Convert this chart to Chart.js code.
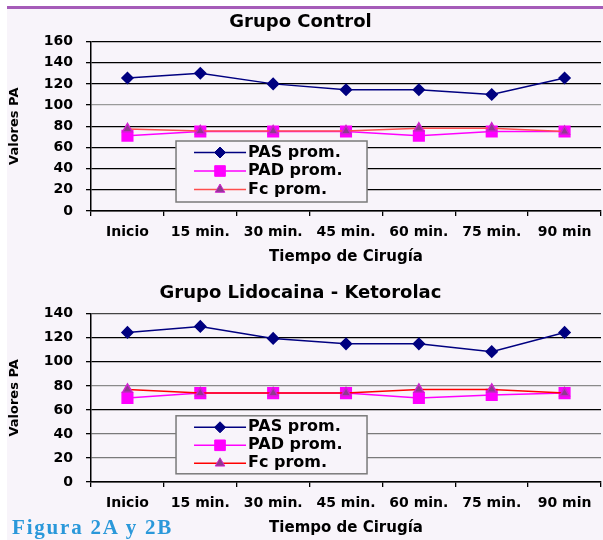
<!DOCTYPE html>
<html lang="es">
<head>
<meta charset="utf-8">
<title>Figura 2A y 2B</title>
<script src="https://cdn.jsdelivr.net/npm/chart.js@4/dist/chart.umd.min.js"></script>
<style>
  html, body { margin: 0; padding: 0; background: #fff; }
  body { width: 603px; height: 540px; position: relative; overflow: hidden; }
  #frame { position: absolute; left: 7px; top: 6px; right: 0; bottom: 0; background: #f8f4fa; border-top: 3px solid #a55bb8; }
  .box { position: absolute; left: 0; width: 603px; }
  #boxA { top: 10px; height: 260px; }
  #boxB { top: 270px; height: 270px; }
  #fig { position: absolute; left: 12px; top: 515px; font: bold 21px "Liberation Serif", serif; color: #2a98da; letter-spacing: 1.8px; }
</style>
</head>
<body>
  <div id="frame"></div>
  <div class="box" id="boxA"><canvas id="chartControl"></canvas></div>
  <div class="box" id="boxB"><canvas id="chartLido"></canvas></div>
  <div id="fig">Figura 2A y 2B</div>

<script>
  // datos
  const categories   = ['Inicio', '15 min.', '30 min.', '45 min.', '60 min.', '75 min.', '90 min'];
  const seriesLabels = ['PAS prom.', 'PAD prom.', 'Fc prom.'];

  const controlPAS = [125.5, 130, 120, 114.5, 114.5, 110, 125.5];
  const controlPAD = [71, 75, 75, 75, 71, 75, 75];
  const controlFc  = [77.5, 75.5, 75.5, 75.5, 78, 78, 75];
  const controlYMax = 160;

  const lidoPAS = [124.5, 129.5, 119.5, 115, 115, 108.5, 124.5];
  const lidoPAD = [70, 74, 74, 74, 70, 72.5, 74];
  const lidoFc  = [77, 74, 74, 74, 77, 77, 74];
  const lidoYMax = 140;

  const FONT = '"DejaVu Sans", Verdana, sans-serif';
  const BG = '#f8f4fa';

  // leyenda en recuadro dentro del area del grafico
  const boxLegend = {
    id: 'boxLegend',
    afterDatasetsDraw(chart, args, o) {
      const { ctx, chartArea } = chart;
      const x = chartArea.left + o.left, y = chartArea.top + o.top;
      ctx.save();
      ctx.fillStyle = BG;
      ctx.fillRect(x, y, o.width, o.height);
      ctx.strokeStyle = '#7a7a7a';
      ctx.lineWidth = 1.5;
      ctx.strokeRect(x, y, o.width, o.height);
      chart.data.datasets.forEach((ds, i) => {
        const cy = y + o.rowTop + i * o.rowGap;
        ctx.strokeStyle = ds.borderColor;
        ctx.lineWidth = ds.borderWidth;
        ctx.beginPath();
        ctx.moveTo(x + o.lineStart, cy);
        ctx.lineTo(x + o.lineEnd, cy);
        ctx.stroke();
        ctx.fillStyle = ds.pointBackgroundColor;
        ctx.strokeStyle = ds.pointBorderColor;
        ctx.lineWidth = 1;
        Chart.helpers.drawPoint(ctx, { pointStyle: ds.pointStyle, radius: ds.pointRadius, rotation: 0, borderWidth: 1 },
          x + (o.lineStart + o.lineEnd) / 2, cy);
        ctx.fillStyle = '#000';
        ctx.font = 'bold 16px ' + FONT;
        ctx.textBaseline = 'middle';
        ctx.fillText(ds.label, x + o.textX, cy);
      });
      ctx.restore();
    }
  };

  function makeChart(id, title, pas, pad, fc, yMax, p) {
    const gridColor = ctx => p.gridColors[ctx.tick.value] || '#000';
    return new Chart(document.getElementById(id), {
      type: 'line',
      data: {
        labels: categories,
        datasets: [
          { label: seriesLabels[0], data: pas, borderColor: '#000080', borderWidth: 1.5,
            pointStyle: 'rectRot', pointRadius: 5.5, pointBackgroundColor: '#000080', pointBorderColor: '#000080', order: 2 },
          { label: seriesLabels[1], data: pad, borderColor: '#ff00ff', borderWidth: 1.5,
            pointStyle: 'rect', pointRadius: 7.5, pointBackgroundColor: '#ff00ff', pointBorderColor: '#ff00ff', order: 1 },
          { label: seriesLabels[2], data: fc, borderColor: p.fcColor, borderWidth: 1.5,
            pointStyle: 'triangle', pointRadius: 5.5, pointBackgroundColor: '#8e3a8e', pointBorderColor: '#d020d0', order: 0 }
        ]
      },
      options: {
        responsive: true,
        maintainAspectRatio: false,
        animation: false,
        layout: { autoPadding: false, padding: { left: 0, right: 2, top: 0, bottom: 0 } },
        elements: { line: { tension: 0 } },
        plugins: {
          legend: { display: false },
          tooltip: { enabled: false },
          title: { display: true, text: title, color: '#000',
                   font: { family: FONT, size: 18, weight: 'bold' }, padding: p.titlePad },
          boxLegend: p.legend
        },
        scales: {
          x: {
            offset: true,
            grid: { offset: true, drawOnChartArea: false, drawTicks: true, tickLength: 5, color: '#000', lineWidth: 1.3 },
            border: { color: '#000', width: 1.5 },
            ticks: { color: '#000', font: { family: FONT, size: 14, weight: 'bold' }, padding: p.xTickPad, maxRotation: 0, autoSkip: false },
            title: { display: true, text: 'Tiempo de Cirugía', color: '#000',
                     font: { family: FONT, size: 15, weight: 'bold' }, padding: p.xTitlePad }
          },
          y: {
            min: 0, max: yMax,
            ticks: { stepSize: 20, autoSkip: false, color: '#000', font: { family: FONT, size: 14, weight: 'bold' }, padding: 13 },
            grid: { color: gridColor, tickColor: '#000', lineWidth: 1.3, tickLength: 5 },
            border: { color: '#000', width: 1.5 },
            title: { display: true, text: 'Valores PA', color: '#000',
                     font: { family: FONT, size: 13, weight: 'bold' }, padding: { top: 7.2, bottom: 8 } }
          }
        }
      },
      plugins: [boxLegend]
    });
  }

  makeChart('chartControl', 'Grupo Control', controlPAS, controlPAD, controlFc, controlYMax, {
    titlePad: { top: 1.2, bottom: 8.7 },
    xTickPad: 7.6,
    xTitlePad: { top: 0, bottom: 4 },
    fcColor: '#ff4d4d',
    gridColors: { 100: '#9a9a9a' },
    legend: { left: 85, top: 99.5, width: 191, height: 61, rowTop: 11.5, rowGap: 18.5, lineStart: 18, lineEnd: 70, textX: 72 }
  });

  makeChart('chartLido', 'Grupo Lidocaina - Ketorolac', lidoPAS, lidoPAD, lidoFc, lidoYMax, {
    titlePad: { top: 12.2, bottom: 10 },
    xTickPad: 7.6,
    xTitlePad: { top: 0, bottom: 3 },
    fcColor: '#ff0000',
    gridColors: { 140: '#444', 80: '#8a8a8a', 40: '#7a7a7a', 20: '#7a7a7a' },
    legend: { left: 85, top: 102, width: 191, height: 58, rowTop: 11.5, rowGap: 18, lineStart: 18, lineEnd: 70, textX: 72 }
  });
</script>
</body>
</html>
